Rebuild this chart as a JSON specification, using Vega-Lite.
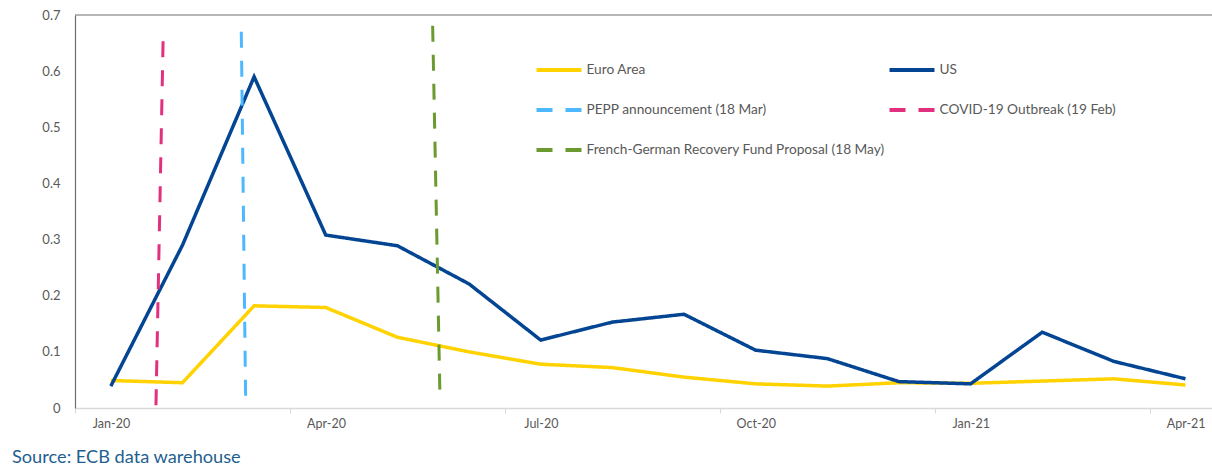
{
  "$schema": "https://vega.github.io/schema/vega-lite/v6.json",
  "autosize": "none",
  "width": 1137,
  "height": 393,
  "padding": {"left": 75, "top": 15, "right": 0, "bottom": 57},
  "background": "white",
  "config": {
    "view": {"stroke": null},
    "font": "Lato"
  },
  "title": {
    "text": "Source: ECB data warehouse",
    "orient": "bottom",
    "anchor": "start",
    "frame": "group",
    "dx": -63,
    "offset": 19,
    "font": "Lato",
    "fontSize": 18.2,
    "fontWeight": "normal",
    "color": "#1F5F8F"
  },
  "datasets": {
    "series": [
      {"s": "Euro Area", "t": 0, "v": 0.049},
      {"s": "Euro Area", "t": 1, "v": 0.045},
      {"s": "Euro Area", "t": 2, "v": 0.182},
      {"s": "Euro Area", "t": 3, "v": 0.179},
      {"s": "Euro Area", "t": 4, "v": 0.126},
      {"s": "Euro Area", "t": 5, "v": 0.100},
      {"s": "Euro Area", "t": 6, "v": 0.078},
      {"s": "Euro Area", "t": 7, "v": 0.072},
      {"s": "Euro Area", "t": 8, "v": 0.055},
      {"s": "Euro Area", "t": 9, "v": 0.043},
      {"s": "Euro Area", "t": 10, "v": 0.039},
      {"s": "Euro Area", "t": 11, "v": 0.045},
      {"s": "Euro Area", "t": 12, "v": 0.044},
      {"s": "Euro Area", "t": 13, "v": 0.048},
      {"s": "Euro Area", "t": 14, "v": 0.052},
      {"s": "Euro Area", "t": 15, "v": 0.041},
      {"s": "US", "t": 0, "v": 0.039},
      {"s": "US", "t": 1, "v": 0.290},
      {"s": "US", "t": 2, "v": 0.590},
      {"s": "US", "t": 3, "v": 0.308},
      {"s": "US", "t": 4, "v": 0.289},
      {"s": "US", "t": 5, "v": 0.221},
      {"s": "US", "t": 6, "v": 0.121},
      {"s": "US", "t": 7, "v": 0.153},
      {"s": "US", "t": 8, "v": 0.167},
      {"s": "US", "t": 9, "v": 0.103},
      {"s": "US", "t": 10, "v": 0.088},
      {"s": "US", "t": 11, "v": 0.047},
      {"s": "US", "t": 12, "v": 0.043},
      {"s": "US", "t": 13, "v": 0.135},
      {"s": "US", "t": 14, "v": 0.083},
      {"s": "US", "t": 15, "v": 0.052}
    ],
    "events": [
      {"s": "COVID-19 Outbreak (19 Feb)", "t": 0.732, "v": 0.670},
      {"s": "COVID-19 Outbreak (19 Feb)", "t": 0.630, "v": 0.005},
      {"s": "PEPP announcement (18 Mar)", "t": 1.821, "v": 0.670},
      {"s": "PEPP announcement (18 Mar)", "t": 1.882, "v": 0.011},
      {"s": "French-German Recovery Fund Proposal (18 May)", "t": 4.492, "v": 0.681},
      {"s": "French-German Recovery Fund Proposal (18 May)", "t": 4.594, "v": 0.020}
    ],
    "frame": [{"v": 0.7}]
  },
  "encoding": {
    "x": {
      "field": "t",
      "type": "quantitative",
      "scale": {"domain": [-0.5, 15.37], "nice": false, "zero": false},
      "axis": {
        "title": null,
        "values": [-0.5, 2.5, 5.5, 8.5, 11.5, 14.5],
        "labelExpr": "['Jan-20','Apr-20','Jul-20','Oct-20','Jan-21','Apr-21'][round((datum.value + 0.5) / 3)]",
        "labelOffset": 36,
        "labelFlush": false,
        "labelOverlap": false,
        "labelBound": false,
        "grid": false,
        "domainColor": "#D9D9D9",
        "domainWidth": 1.5,
        "tickColor": "#D9D9D9",
        "tickSize": 5,
        "labelPadding": 4,
        "labelFont": "Lato",
        "labelFontSize": 12.5,
        "labelColor": "#595959"
      }
    },
    "y": {
      "field": "v",
      "type": "quantitative",
      "scale": {"domain": [0, 0.7], "nice": false},
      "axis": {
        "title": null,
        "values": [0, 0.1, 0.2, 0.3, 0.4, 0.5, 0.6, 0.7],
        "format": ".1~f",
        "grid": false,
        "ticks": false,
        "domainColor": "#6F6F6F",
        "domainWidth": 1.2,
        "labelPadding": 15,
        "labelFont": "Lato",
        "labelFontSize": 13,
        "labelColor": "#595959"
      }
    },
    "color": {
      "field": "s",
      "type": "nominal",
      "scale": {
        "domain": ["Euro Area", "PEPP announcement (18 Mar)", "French-German Recovery Fund Proposal (18 May)", "US", "COVID-19 Outbreak (19 Feb)"],
        "range": ["#FFD200", "#4DB8FF", "#6B9A30", "#034592", "#E0307E"]
      },
      "legend": {
        "title": null,
        "orient": "none",
        "legendX": 472,
        "legendY": 43,
        "columns": 2,
        "padding": 0,
        "columnPadding": -4,
        "rowPadding": 20,
        "symbolType": "M-2.25,0H2.25",
        "symbolSize": 400,
        "symbolStrokeWidth": 4,
        "labelOffset": 15.5,
        "labelFont": "Lato",
        "labelFontSize": 13.7,
        "labelColor": "#595959",
        "labelLimit": 400
      }
    },
    "strokeDash": {
      "field": "s",
      "type": "nominal",
      "scale": {
        "domain": ["Euro Area", "PEPP announcement (18 Mar)", "French-German Recovery Fund Proposal (18 May)", "US", "COVID-19 Outbreak (19 Feb)"],
        "range": [[1, 0], [16, 13], [16, 13], [1, 0], [16, 13]]
      },
      "legend": {
        "title": null,
        "orient": "none",
        "legendX": 472,
        "legendY": 43,
        "columns": 2,
        "padding": 0,
        "columnPadding": -4,
        "rowPadding": 20,
        "symbolType": "M-2.25,0H2.25",
        "symbolSize": 400,
        "symbolStrokeWidth": 4,
        "labelOffset": 15.5,
        "labelFont": "Lato",
        "labelFontSize": 13.7,
        "labelColor": "#595959",
        "labelLimit": 400
      }
    }
  },
  "layer": [
    {
      "data": {"name": "frame"},
      "mark": {"type": "rule", "color": "#6F6F6F", "strokeWidth": 1.2},
      "encoding": {
        "x": null,
        "color": null,
        "strokeDash": null,
        "y": {"field": "v", "type": "quantitative"}
      }
    },
    {
      "data": {"name": "series"},
      "mark": {"type": "line", "strokeWidth": 3.5, "strokeCap": "butt"},
      "encoding": {}
    },
    {
      "data": {"name": "events"},
      "mark": {"type": "line", "strokeWidth": 3, "strokeCap": "butt"},
      "encoding": {}
    }
  ]
}
